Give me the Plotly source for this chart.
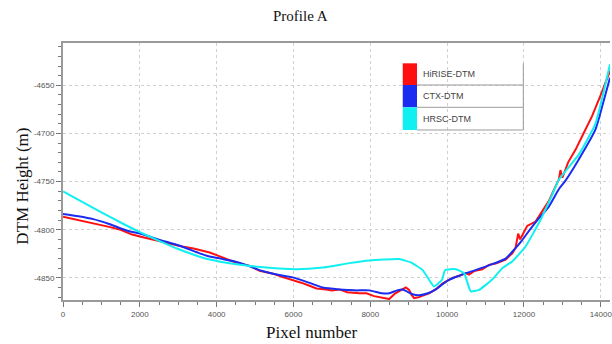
import plotly.graph_objects as go

# ---------------- data ----------------
series_names = ["HiRISE-DTM", "CTX-DTM", "HRSC-DTM"]
series_colors = ["#ff1010", "#1a2cf0", "#10f0f0"]

hirise_x = [0, 300, 600, 900, 1200, 1500, 1654, 1800, 2000, 2250, 2519, 2800, 3100,
            3400, 3600, 3818, 4100, 4423, 4700, 4900, 5116, 5300, 5500, 5700, 5981,
            6200, 6400, 6600, 6848, 7000, 7194, 7400, 7713, 7900, 8100, 8318, 8492,
            8650, 8796, 8925, 9011, 9080, 9141, 9271, 9400, 9531, 9700, 9877, 10000,
            10137, 10300, 10484, 10570, 10700, 10915, 11089, 11263, 11523, 11695,
            11780, 11850, 11900, 11954, 12084, 12302, 12474, 12650, 12821, 12907, 12950,
            13000, 13150, 13341, 13550, 13773, 14000, 14240]
hirise_y = [-4786.5, -4789, -4791.5, -4794, -4797, -4800, -4803, -4805, -4807, -4809.5,
            -4812, -4814.5, -4817.5, -4819.5, -4821.5, -4823.6, -4828, -4833, -4836,
            -4838, -4842.6, -4844, -4846, -4849, -4852, -4855, -4858, -4861, -4862,
            -4863, -4862, -4865, -4866, -4866, -4869, -4871, -4872, -4866, -4863,
            -4860, -4862.5, -4868, -4871, -4870, -4868, -4866, -4862, -4856, -4853,
            -4850, -4848, -4845, -4846.5, -4843, -4841, -4836.5, -4835, -4831,
            -4824.5, -4819, -4804, -4810, -4806, -4796, -4791.5, -4781, -4770, -4755, -4748,
            -4738, -4746, -4730, -4717, -4700, -4682, -4660, -4635]

ctx_x = [0, 400, 787, 1200, 1654, 2000, 2519, 3038, 3558, 3818, 4100, 4423, 4800,
         5116, 5500, 5981, 6400, 6760, 7194, 7600, 7973, 8310, 8492, 8700, 8830,
         8925, 9100, 9271, 9500, 9704, 9900, 10050, 10300, 10656, 11089, 11522,
         11738, 11950, 12042, 12344, 12648, 12907, 13081, 13426, 13860, 14050, 14240]
ctx_y = [-4783.6, -4786, -4789, -4794, -4800.8, -4804, -4810.5, -4816.7, -4824.5,
         -4827.8, -4830, -4832.5, -4837, -4842, -4846, -4849.5, -4855, -4860, -4862,
         -4863, -4863, -4866, -4866, -4863, -4862, -4863.5, -4867, -4868, -4866,
         -4862, -4856, -4852, -4848, -4843, -4837, -4830, -4821, -4811, -4806,
         -4790.4, -4776, -4758, -4749, -4727, -4696, -4670, -4642]

hrsc_x = [0, 500, 1000, 1500, 2000, 2500, 3000, 3558, 3818, 4423, 5290, 6069, 6760,
          7453, 7973, 8752, 9056, 9358, 9531, 9661, 9868, 9946, 10224, 10440, 10614,
          10830, 11167, 11435, 11694, 12042, 12432, 12734, 12907, 13426, 13860, 14240]
hrsc_y = [-4760.2, -4771, -4782, -4792.5, -4802.5, -4811.5, -4820, -4828, -4831,
          -4835.4, -4839.3, -4841, -4839.3, -4834.7, -4832, -4830.5, -4834, -4841.7,
          -4852, -4859, -4852, -4842, -4841, -4845, -4864, -4862.5, -4852, -4840,
          -4833, -4817.4, -4789.7, -4763.7, -4748, -4722, -4690, -4628]

x_tickvals = [0, 2000, 4000, 6000, 8000, 10000, 12000, 14000]
x_ticktext = ["0", "2000", "4000", "6000", "8000", "10000", "12000", "14000"]
y_tickvals = [-4850, -4800, -4750, -4700, -4650]
y_ticktext = ["-4850", "-4800", "-4750", "-4700", "-4650"]

title_text = "Profile A"
x_title = "Pixel number"
y_title = "DTM Height (m)"

# ---------------- figure ----------------
fig = go.Figure()
fig.add_trace(go.Scatter(x=hirise_x, y=hirise_y, mode="lines", name=series_names[0],
                         line=dict(color=series_colors[0], width=2), showlegend=False))
fig.add_trace(go.Scatter(x=ctx_x, y=ctx_y, mode="lines", name=series_names[1],
                         line=dict(color=series_colors[1], width=2, shape="spline",
                                   smoothing=0.6), showlegend=False))
fig.add_trace(go.Scatter(x=hrsc_x, y=hrsc_y, mode="lines", name=series_names[2],
                         line=dict(color=series_colors[2], width=2, shape="spline",
                                   smoothing=0.4), showlegend=False))

axis_common = dict(
    showline=True, linecolor="#9a9a9a", linewidth=2,
    ticks="outside", tickcolor="#777", ticklen=5, tickwidth=1,
    showgrid=True, gridcolor="#d0d0d0", griddash="dot", gridwidth=1,
    zeroline=False, ticklabeloverflow="allow",
    tickfont=dict(family="Liberation Sans, Arial", size=8, color="#555"),
)

fig.update_xaxes(range=[0, 14240], tickvals=x_tickvals, ticktext=x_ticktext,
                 mirror=True,
                 minor=dict(dtick=500, ticks="outside", ticklen=3, tickcolor="#777",
                            showgrid=False),
                 **axis_common)
fig.update_yaxes(range=[-4873, -4606], tickvals=y_tickvals, ticktext=y_ticktext,
                 mirror=False,
                 minor=dict(dtick=10, ticks="outside", ticklen=3, tickcolor="#777",
                            showgrid=False),
                 **axis_common)

serif = "Liberation Serif, Times New Roman, serif"
annotations = [
    dict(text=title_text, x=0.4335, y=1.105, xref="paper", yref="paper",
         showarrow=False, font=dict(family=serif, size=15, color="#111"),
         xanchor="center", yanchor="middle"),
    dict(text=x_title, x=0.4536, y=-0.128, xref="paper", yref="paper",
         showarrow=False, font=dict(family=serif, size=17, color="#111"),
         xanchor="center", yanchor="middle"),
    dict(text=y_title, x=-0.0747, y=0.4416, xref="paper", yref="paper",
         showarrow=False, textangle=-90, font=dict(family=serif, size=17, color="#111"),
         xanchor="center", yanchor="middle"),
]

# manual legend (square swatches with separator lines)
shapes = []
leg_x0, leg_x1, leg_right = 0.6211, 0.6472, 0.8415
row_edges = [0.921, 0.8366, 0.7498, 0.6615]
for i, (name, col) in enumerate(zip(series_names, series_colors)):
    y_top, y_bot = row_edges[i], row_edges[i + 1]
    shapes.append(dict(type="rect", xref="paper", yref="paper",
                       x0=leg_x0, x1=leg_x1, y0=y_bot, y1=y_top,
                       fillcolor=col, line=dict(width=0)))
    shapes.append(dict(type="line", xref="paper", yref="paper",
                       x0=leg_x1, x1=leg_right, y0=y_bot, y1=y_bot,
                       line=dict(color="#9a9a9a", width=1)))
    annotations.append(dict(text=name, x=leg_x1 + 0.008, y=(y_top + y_bot) / 2,
                            xref="paper", yref="paper", showarrow=False,
                            xanchor="left", yanchor="middle",
                            font=dict(family="Liberation Sans, Arial", size=9,
                                      color="#444")))
shapes.append(dict(type="line", xref="paper", yref="paper",
                   x0=leg_right, x1=leg_right, y0=row_edges[-1], y1=row_edges[0],
                   line=dict(color="#9a9a9a", width=1)))

fig.update_layout(
    width=612, height=344,
    margin=dict(l=63, r=0, t=43, b=44),
    paper_bgcolor="white", plot_bgcolor="white",
    showlegend=False,
    annotations=annotations, shapes=shapes,
)

fig.write_html("out.html")
